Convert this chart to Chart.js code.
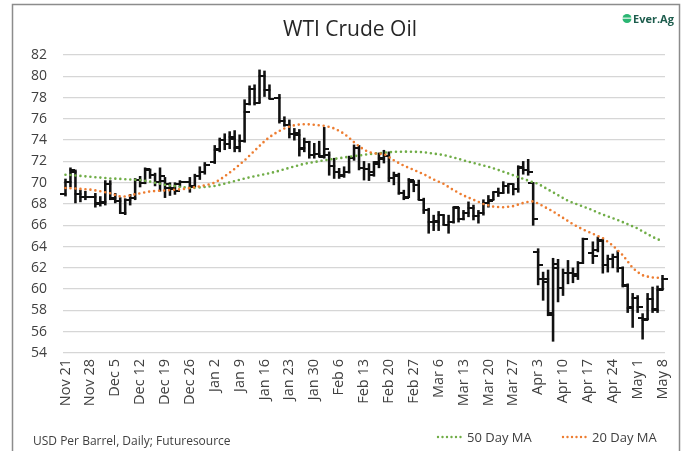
<!DOCTYPE html>
<html><head><meta charset="utf-8">
<script src="https://cdn.jsdelivr.net/npm/chart.js@4.4.1/dist/chart.umd.min.js"></script>
<style>html,body{margin:0;padding:0;background:#fff;}canvas{display:block}</style>
</head><body><canvas id="c" width="686" height="451"></canvas>
<script>
// ---- Data ----
const days = [
 "Nov 21","Nov 22","Nov 25","Nov 26","Nov 27","Nov 28","Nov 29","Dec 2","Dec 3","Dec 4",
 "Dec 5","Dec 6","Dec 9","Dec 10","Dec 11","Dec 12","Dec 13","Dec 16","Dec 17","Dec 18",
 "Dec 19","Dec 20","Dec 23","Dec 24","Dec 25","Dec 26","Dec 27","Dec 30","Dec 31","Jan 1",
 "Jan 2","Jan 3","Jan 6","Jan 7","Jan 8","Jan 9","Jan 10","Jan 13","Jan 14","Jan 15",
 "Jan 16","Jan 17","Jan 20","Jan 21","Jan 22","Jan 23","Jan 24","Jan 27","Jan 28","Jan 29",
 "Jan 30","Jan 31","Feb 3","Feb 4","Feb 5","Feb 6","Feb 7","Feb 10","Feb 11","Feb 12",
 "Feb 13","Feb 14","Feb 18","Feb 19","Feb 20","Feb 21","Feb 24","Feb 25","Feb 26","Feb 27",
 "Feb 28","Mar 3","Mar 4","Mar 5","Mar 6","Mar 7","Mar 10","Mar 11","Mar 12","Mar 13",
 "Mar 14","Mar 17","Mar 18","Mar 19","Mar 20","Mar 21","Mar 24","Mar 25","Mar 26","Mar 27",
 "Mar 28","Mar 31","Apr 1","Apr 2","Apr 3","Apr 4","Apr 7","Apr 8","Apr 9","Apr 10",
 "Apr 11","Apr 14","Apr 15","Apr 16","Apr 17","Apr 18","Apr 21","Apr 22","Apr 23","Apr 24",
 "Apr 25","Apr 28","Apr 29","Apr 30","May 1","May 2","May 5","May 6","May 7","May 8",
 "May 9"];

const tickLabels = ["Nov 21","Nov 28","Dec 5","Dec 12","Dec 19","Dec 26","Jan 2","Jan 9","Jan 16",
 "Jan 23","Jan 30","Feb 6","Feb 13","Feb 20","Feb 27","Mar 6","Mar 13","Mar 20","Mar 27",
 "Apr 3","Apr 10","Apr 17","Apr 24","May 1","May 8"];

const openP = [
 68.9,70.1,71.0,68.9,68.7, null,68.7,68.1,68.2,69.9,
 68.6,68.3,67.2,68.4,68.6, 70.3,70.0,71.2,70.7,70.1,
 70.2,69.5,69.4,69.9,null, 70.1,69.7,70.6,71.0,null,
 71.9,73.2,74.0,73.6,74.1, 73.4,73.9,77.4,78.8,77.5,
 80.0,78.7,null,78.0,75.8, 75.4,74.6,74.5,73.3,73.8,
 72.6,72.7,72.4,72.6,71.6, 71.0,70.7,71.0,72.3,73.3,
 71.4,71.3,71.0,71.9,72.2, 72.5,70.4,70.6,69.0,68.7,
 70.1,69.8,68.4,67.4,66.3, 66.3,67.0,66.0,66.3,67.6,
 66.6,67.2,67.6,66.9,67.2, 68.1,68.4,69.1,69.0,69.7,
 69.9,69.4,71.4,71.2,70.0, 63.5,61.0,61.0,57.6,62.0,
 60.1,61.5,61.5,61.2,62.5, null,63.4,63.7,64.5,62.3,
 62.8,63.0,62.0,60.3,58.3, 59.2,57.3,57.2,59.1,58.0,
 60.0];

const highP = [
 70.35,71.4,71.2,69.3,69.2, null,69.0,68.7,70.2,70.2,
 69.0,68.6,68.5,68.9,70.4, 70.6,71.4,71.3,70.9,71.4,
 70.5,70.0,70.0,70.2,null, 70.5,70.8,71.5,71.9,null,
 73.5,74.2,74.6,74.8,74.9, 74.5,77.8,79.1,79.2,80.6,
 80.5,79.2,null,78.3,76.2, 75.9,75.1,75.0,74.2,73.9,
 73.7,73.9,75.2,72.9,72.3, 71.35,71.5,72.5,73.55,73.5,
 72.0,71.8,72.0,72.8,73.05, 72.9,71.0,70.9,69.3,70.4,
 70.2,70.25,68.55,67.6,66.95, 67.3,67.0,66.95,67.7,67.7,
 67.4,68.2,67.9,67.4,68.4, 68.8,69.15,69.5,70.1,69.9,
 69.9,71.6,72.0,72.2,70.0, 63.8,61.6,61.8,62.9,62.8,
 61.9,62.7,62.0,62.6,64.8, null,64.45,64.9,64.7,63.2,
 63.3,63.6,62.1,60.5,59.6, 59.4,57.7,59.6,60.2,60.3,
 61.3];

const lowP = [
 68.75,69.6,68.1,68.2,68.4, null,67.7,67.8,67.9,68.4,
 68.1,67.1,67.0,67.9,68.4, 69.6,69.9,70.4,69.7,69.2,
 68.6,68.8,68.9,69.6,null, 69.1,69.6,70.3,70.8,null,
 71.8,72.9,73.1,73.2,72.9, 72.9,73.8,77.3,77.3,77.5,
 78.1,77.9,null,75.6,75.3, 74.2,74.0,72.5,72.9,72.3,
 72.3,72.4,72.3,70.7,70.4, 70.4,70.5,70.9,72.1,71.2,
 70.25,70.2,70.6,71.4,71.85, 70.1,69.8,68.9,68.4,68.6,
 69.15,68.4,67.1,65.25,65.5, 65.5,66.0,65.25,66.2,66.3,
 66.5,66.8,66.5,66.2,66.95, 67.7,68.4,68.7,69.0,69.0,
 68.85,69.1,70.8,70.7,66.0, 60.4,58.95,57.5,55.1,58.8,
 59.4,60.5,60.6,60.9,62.4, null,62.4,63.5,61.5,61.6,
 62.0,61.6,60.2,57.8,56.4, 57.8,55.3,57.1,57.8,57.8,
 59.9];

const closeP = [
 70.1,71.2,68.9,68.7,68.7, null,68.0,68.1,69.9,68.5,
 68.3,67.2,68.4,68.6,70.3, 70.0,71.3,70.7,70.1,70.6,
 69.9,69.5,69.2,70.1,null, 69.6,70.6,71.0,71.7,null,
 73.1,74.0,73.6,74.3,73.3, 73.9,76.6,78.8,77.5,80.0,
 78.7,77.9,null,75.8,75.4, 74.6,74.7,73.2,73.8,72.6,
 72.7,72.5,73.2,71.6,71.0, 70.6,71.0,72.3,73.3,71.4,
 71.3,70.7,71.8,72.3,72.5, 70.4,70.7,69.0,68.6,70.3,
 69.8,68.4,67.4,66.3,66.4, 67.0,66.0,66.3,67.7,66.6,
 67.2,67.6,66.9,67.2,68.1, 68.3,69.1,69.0,69.7,69.9,
 69.4,71.5,71.2,71.0,66.6, 62.3,60.7,57.8,62.4,60.1,
 61.5,61.5,61.4,62.5,64.7, null,63.1,64.6,62.3,62.8,
 63.0,62.0,60.4,58.2,59.2, 58.3,57.1,59.1,58.1,59.9,
 61.0];

const ma50 = [
 70.75,70.72,70.68,70.64,70.6, 70.56,70.52,70.48,70.44,70.4,
 70.38,70.36,70.33,70.3,70.27, 70.25,70.18,70.1,70.0,69.9,
 69.8,69.74,69.68,69.62,69.56, 69.5,69.52,69.56,69.6,69.65,
 69.7,69.8,69.92,70.04,70.16, 70.28,70.4,70.5,70.6,70.7,
 70.8,70.9,71.0,71.13,71.26, 71.4,71.53,71.66,71.78,71.86,
 71.94,72.02,72.1,72.17,72.24, 72.3,72.37,72.44,72.5,72.56,
 72.62,72.68,72.74,72.78,72.82, 72.86,72.9,72.91,72.92,72.92,
 72.91,72.89,72.86,72.8,72.74, 72.67,72.6,72.49,72.37,72.24,
 72.1,71.98,71.86,71.74,71.62, 71.5,71.35,71.2,71.03,70.87,
 70.7,70.53,70.36,70.2,70.05, 69.9,69.63,69.36,69.1,68.83,
 68.56,68.3,68.12,67.95,67.77, 67.6,67.4,67.2,67.0,66.83,
 66.67,66.5,66.3,66.1,65.9, 65.7,65.43,65.17,64.9,64.7,
 64.5];

const ma20 = [
 69.5,69.48,69.45,69.42,69.38, 69.35,69.28,69.2,69.1,69.0,
 68.85,68.72,68.7,68.8,68.92, 69.0,69.1,69.18,69.22,69.25,
 69.28,69.3,69.34,69.38,69.43, 69.5,69.58,69.66,69.75,69.86,
 70.0,70.28,70.6,70.95,71.3, 71.7,72.1,72.55,73.0,73.45,
 73.9,74.28,74.6,74.87,75.1, 75.27,75.4,75.47,75.5,75.48,
 75.45,75.4,75.35,75.25,75.1, 74.88,74.6,74.22,73.8,73.43,
 73.1,72.88,72.75,72.72,72.7, 72.42,72.1,71.85,71.6,71.4,
 71.2,71.0,70.8,70.55,70.3, 70.1,69.9,69.6,69.3,69.05,
 68.8,68.6,68.4,68.2,68.0, 67.87,67.75,67.72,67.7,67.74,
 67.8,67.95,68.1,68.2,68.25, 68.05,67.8,67.55,67.3,67.0,
 66.7,66.4,66.1,65.85,65.6, 65.4,65.2,65.0,64.8,64.45,
 64.1,63.65,63.2,62.6,62.0, 61.6,61.3,61.18,61.1,61.07,
 61.05];

// ---- Styling ----
const FONT = "'Open Sans', 'Noto Sans', sans-serif";
const TXT = '#404040';
const GREEN = '#70ad47';
const ORANGE = '#ed7d31';
const BARC = '#111111';

function tickImg(side) {
  const c = document.createElement('canvas');
  c.width = 10; c.height = 2;
  const g = c.getContext('2d');
  g.fillStyle = BARC;
  if (side === 'L') g.fillRect(0, 0, 5.8, 2); else g.fillRect(4.2, 0, 5.8, 2);
  return c;
}

const decor = {
  id: 'decor',
  beforeDraw(chart) {
    const ctx = chart.ctx;
    ctx.save();
    ctx.fillStyle = '#fff';
    ctx.fillRect(0, 0, chart.width, chart.height);
    ctx.restore();
  },
  afterDraw(chart) {
    const ctx = chart.ctx;
    ctx.save();
    // frame
    ctx.strokeStyle = '#8c8c8c';
    ctx.lineWidth = 1.5;
    ctx.strokeRect(12.5, 4.5, 667, 470);
    // title
    ctx.fillStyle = '#262626';
    ctx.font = "400 21px " + FONT;
    ctx.textAlign = 'center';
    ctx.textBaseline = 'alphabetic';
    ctx.fillText('WTI Crude Oil', 350, 36);
    // logo
    ctx.fillStyle = '#2bb673';
    ctx.beginPath(); ctx.arc(627, 18.5, 4.5, 0, Math.PI * 2); ctx.fill();
    ctx.fillStyle = '#ffffff';
    ctx.fillRect(622, 17.6, 10, 1.1);
    ctx.fillStyle = '#1d5c4d';
    ctx.font = "700 11px " + FONT;
    ctx.textAlign = 'left';
    ctx.fillText('Ever.Ag', 633, 22.5);
    // source note
    ctx.fillStyle = TXT;
    ctx.font = "400 12px " + FONT;
    ctx.fillText('USD Per Barrel, Daily; Futuresource', 33, 445);
    // legend
    const items = [[GREEN, '50 Day MA', 438], [ORANGE, '20 Day MA', 563]];
    ctx.font = "400 13px " + FONT;
    for (const [col, lab, x0] of items) {
      ctx.strokeStyle = col;
      ctx.lineWidth = 2.4;
      ctx.lineCap = 'round';
      ctx.setLineDash([0, 4.5]);
      ctx.beginPath(); ctx.moveTo(x0, 437); ctx.lineTo(x0 + 24, 437); ctx.stroke();
      ctx.setLineDash([]);
      ctx.fillStyle = TXT;
      ctx.fillText(lab, x0 + 29, 441.5);
    }
    ctx.restore();
  }
};

const hl = lowP.map((l, i) => (l == null || highP[i] == null) ? null : [l, highP[i]]);

new Chart(document.getElementById('c'), {
  type: 'bar',
  data: {
    labels: days,
    datasets: [
      { label: '50 Day MA', type: 'line', data: ma50, borderColor: GREEN, borderWidth: 2.6,
        borderDash: [0, 5], borderCapStyle: 'round', pointRadius: 0, tension: 0, fill: false, order: 1 },
      { label: '20 Day MA', type: 'line', data: ma20, borderColor: ORANGE, borderWidth: 2.6,
        borderDash: [0, 5], borderCapStyle: 'round', pointRadius: 0, tension: 0, fill: false, order: 0 },
      { label: 'High-Low', type: 'bar', data: hl, backgroundColor: BARC, barThickness: 1.9,
        borderWidth: 0, order: 4 },
      { label: 'Open', type: 'line', data: openP, showLine: false, pointStyle: tickImg('L'),
        pointRadius: 3, order: 3 },
      { label: 'Close', type: 'line', data: closeP, showLine: false, pointStyle: tickImg('R'),
        pointRadius: 3, order: 3 }
    ]
  },
  options: {
    responsive: false,
    animation: false,
    devicePixelRatio: 1,
    layout: { padding: { top: 55, right: 20, bottom: 38, left: 0 } },
    plugins: { legend: { display: false }, title: { display: false }, tooltip: { enabled: false } },
    scales: {
      x: {
        type: 'category',
        offset: true,
        grid: { display: false, drawTicks: false },
        border: { display: false },
        ticks: {
          autoSkip: false, minRotation: 90, maxRotation: 90, padding: 6,
          color: TXT, font: { family: FONT, size: 14.5 },
          callback: (v, i) => (i % 5 === 0 ? tickLabels[i / 5] : '')
        },
        afterFit: s => { s.height = 60; }
      },
      y: {
        min: 54, max: 82,
        grid: { color: '#d6d6d6', lineWidth: 1.3, drawTicks: false },
        border: { display: false },
        ticks: { stepSize: 2, padding: 16, color: TXT, font: { family: FONT, size: 14 } },
        afterFit: s => { s.width = 63; }
      }
    }
  },
  plugins: [decor]
});
</script>
</body></html>
